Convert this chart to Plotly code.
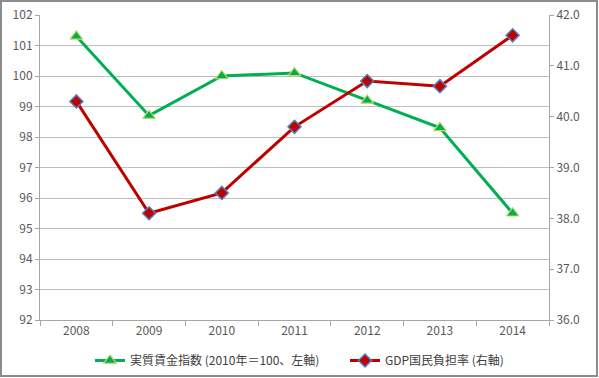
import plotly.graph_objects as go

years = ["2008", "2009", "2010", "2011", "2012", "2013", "2014"]
wage_index = [101.3, 98.7, 100.0, 100.1, 99.2, 98.3, 95.5]
burden_rate = [40.3, 38.1, 38.5, 39.8, 40.7, 40.6, 41.6]
name_wage = "実質賃金指数 (2010年＝100、左軸)"
name_burden = "GDP国民負担率 (右軸)"

FONT = "Noto Sans CJK JP, Noto Sans, sans-serif"
W, H = 599, 378
L, R, T, B = 40, 50, 15, 58
pw, ph = W - L - R, H - T - B

fig = go.Figure()
fig.add_trace(go.Scatter(
    x=years, y=wage_index, name=name_wage, mode="lines+markers",
    legend="legend",
    line=dict(color="#00B050", width=3),
    marker=dict(symbol="triangle-up", size=11, color="#00B050",
                line=dict(color="#C4D66B", width=1.2)),
))
fig.add_trace(go.Scatter(
    x=years, y=burden_rate, name=name_burden, mode="lines+markers", yaxis="y2",
    legend="legend2",
    line=dict(color="#C00000", width=3),
    marker=dict(symbol="diamond", size=10, color="#C00000",
                line=dict(color="#4F81BD", width=1.5)),
))

def px_to_paper_x(px):
    return (px - L) / pw

def px_to_paper_y(py):
    return (H - B - py) / ph

fig.add_shape(type="rect", xref="paper", yref="paper",
              x0=px_to_paper_x(1), x1=px_to_paper_x(597),
              y0=px_to_paper_y(376), y1=px_to_paper_y(1),
              line=dict(color="#8C8C8C", width=2), fillcolor="rgba(0,0,0,0)",
              layer="below")

leg_common = dict(orientation="h", xanchor="left", y=px_to_paper_y(346),
                  yanchor="top", font=dict(size=12, color="#404040"),
                  itemwidth=30, bgcolor="rgba(0,0,0,0)")

fig.update_layout(
    width=W, height=H,
    margin=dict(l=L, r=R, t=T, b=B, autoexpand=False),
    paper_bgcolor="white", plot_bgcolor="white",
    font=dict(family=FONT, size=12, color="#595959"),
    showlegend=True,
    legend=dict(x=px_to_paper_x(90), **leg_common),
    legend2=dict(x=px_to_paper_x(345), **leg_common),
    xaxis=dict(type="category", tickson="boundaries", ticks="outside",
               ticklen=5, tickcolor="#A6A6A6", showline=True, linecolor="#A6A6A6",
               linewidth=1, showgrid=False, tickfont=dict(size=12),
               range=[-0.5, 6.5]),
    yaxis=dict(range=[92, 102], dtick=1, tick0=92, showgrid=True,
               gridcolor="#BFBFBF", gridwidth=1, showline=True,
               linecolor="#A6A6A6", ticks="outside", ticklen=4,
               tickcolor="#A6A6A6", zeroline=False, tickfont=dict(size=12)),
    yaxis2=dict(range=[36, 42], dtick=1, tick0=36, overlaying="y", side="right",
                showgrid=False, showline=True, linecolor="#A6A6A6",
                ticks="outside", ticklen=4, tickcolor="#A6A6A6",
                tickformat=".1f", zeroline=False, tickfont=dict(size=12)),
)

fig.write_html("out.html", config={"displayModeBar": False},
               post_script="document.body.style.margin='0';")
